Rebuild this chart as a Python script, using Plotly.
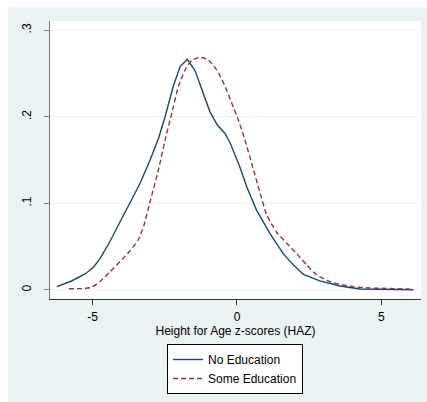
import plotly.graph_objects as go

# Kernel density estimates of height-for-age z-scores, by maternal education
no_edu_x = [-6.24, -5.73, -5.25, -4.98, -4.75, -4.57, -4.40, -4.17, -3.93, -3.71,
            -3.36, -3.01, -2.72, -2.49, -2.21, -1.97, -1.72, -1.45, -1.22, -0.94,
            -0.68, -0.42, -0.24, -0.01, 0.10, 0.34, 0.68, 1.14, 1.60, 1.95,
            2.30, 2.87, 3.57, 4.26, 5.18, 5.65, 6.11]
no_edu_y = [0.0038, 0.0104, 0.0188, 0.026, 0.036, 0.046, 0.056, 0.071, 0.086, 0.101,
            0.123, 0.150, 0.175, 0.200, 0.235, 0.258, 0.2664, 0.253, 0.231, 0.206,
            0.1905, 0.181, 0.170, 0.151, 0.142, 0.119, 0.092, 0.0655, 0.042, 0.029,
            0.018, 0.0105, 0.0046, 0.0012, 0.0008, 0.0012, 0.0002]

some_edu_x = [-5.82, -5.32, -5.05, -4.75, -4.40, -4.05, -3.71, -3.42, -3.22, -3.01,
              -2.72, -2.49, -2.26, -2.03, -1.80, -1.57, -1.28, -0.99, -0.70, -0.45,
              -0.18, 0.05, 0.28, 0.51, 0.80, 1.03, 1.37, 1.72, 2.07, 2.41,
              2.76, 3.22, 3.57, 4.03, 4.60, 5.18, 5.88, 6.05]
some_edu_y = [0.0015, 0.0017, 0.003, 0.0096, 0.021, 0.0327, 0.045, 0.058, 0.075, 0.102,
              0.139, 0.173, 0.204, 0.235, 0.254, 0.265, 0.2687, 0.2656, 0.254, 0.238,
              0.2155, 0.196, 0.173, 0.146, 0.112, 0.0866, 0.067, 0.054, 0.042, 0.029,
              0.0173, 0.0096, 0.0065, 0.0038, 0.0023, 0.0019, 0.0012, 0.001]

x_ticks = [-5, 0, 5]
x_tick_labels = ["-5", "0", "5"]
y_ticks = [0, 0.1, 0.2, 0.3]
y_tick_labels = ["0", ".1", ".2", ".3"]

NAVY = "#1a476f"
MAROON = "#90353b"
BG = "#eaf2f3"
FONT = "Liberation Sans, Arial, sans-serif"

fig = go.Figure()
fig.add_trace(go.Scatter(x=no_edu_x, y=no_edu_y, mode="lines", name="No Education",
                         line=dict(color=NAVY, width=1.4)))
fig.add_trace(go.Scatter(x=some_edu_x, y=some_edu_y, mode="lines", name="Some Education",
                         line=dict(color=MAROON, width=1.4, dash="5px,3px",
                                   shape="spline", smoothing=0.5)))

# thin white margin strips along the top and left edges of the light graph region
fig.add_shape(type="rect", xref="paper", yref="paper", layer="above",
              x0=-0.2, x1=-0.1132, y0=-0.5, y1=1.2,
              fillcolor="white", line=dict(width=0))
fig.add_shape(type="rect", xref="paper", yref="paper", layer="above",
              x0=-0.2, x1=1.2, y0=1.0504, y1=1.2,
              fillcolor="white", line=dict(width=0))

fig.update_layout(
    width=427, height=402,
    margin=dict(l=50, r=6, t=21, b=103),
    paper_bgcolor=BG, plot_bgcolor="white",
    font=dict(family=FONT, size=12, color="black"),
    showlegend=True,
    legend=dict(x=0.3154, y=-0.1619, xanchor="left", yanchor="top",
                bgcolor="white", bordercolor="black", borderwidth=1,
                font=dict(family=FONT, size=12, color="black"),
                tracegroupgap=0),
)
fig.update_xaxes(
    range=[-6.477, 6.374], tickvals=x_ticks, ticktext=x_tick_labels,
    showgrid=False, zeroline=False,
    showline=True, linecolor="#333333", linewidth=1.3,
    ticks="outside", ticklen=5, tickcolor="#333333", tickwidth=1.2,
    tickfont=dict(family=FONT, size=12), ticklabelstandoff=1,
    title=dict(text="Height for Age z-scores (HAZ)", standoff=3,
               font=dict(family=FONT, size=12)),
)
fig.update_yaxes(
    range=[-0.0104, 0.3106], tickvals=y_ticks, ticktext=y_tick_labels,
    showgrid=True, gridcolor=BG, gridwidth=1.2, zeroline=False,
    showline=True, linecolor="#7a7a7a", linewidth=1.3,
    ticks="outside", ticklen=5, tickcolor="#7a7a7a", tickwidth=1.2,
    tickangle=-90, tickfont=dict(family=FONT, size=12), ticklabelstandoff=8,
)

fig.write_html("out.html")
